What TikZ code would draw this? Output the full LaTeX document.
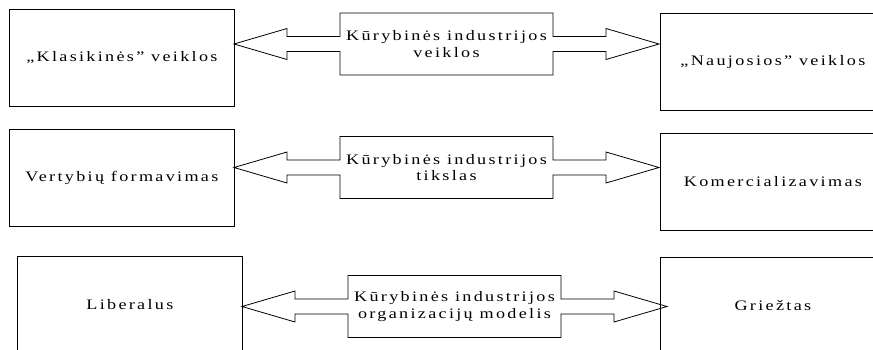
\documentclass[tikz,border=0pt]{standalone}
\usepackage{fontspec}
\setmainfont{Liberation Serif}[LetterSpace=16, FakeStretch=1.25]
\begin{document}
\begin{tikzpicture}[x=1pt,y=-1pt, line width=0.8pt,
  sidebox/.style={draw, minimum width=225pt, minimum height=97pt, anchor=north west, inner sep=0pt, font=\fontsize{14.5}{16.5}\selectfont},
  midtext/.style={align=center, inner sep=0pt, font=\fontsize{14.5}{16.5}\selectfont},
  dblarrow/.pic={
    \draw (-106.5,-31) -- (106.5,-31) -- (106.5,-7.5) -- (159.5,-7.5) -- (159.5,-15.5)
      -- (212.5,0) -- (159.5,15.5) -- (159.5,7.5) -- (106.5,7.5) -- (106.5,31)
      -- (-106.5,31) -- (-106.5,7.5) -- (-159.5,7.5) -- (-159.5,15.5) -- (-212.5,0)
      -- (-159.5,-15.5) -- (-159.5,-7.5) -- (-106.5,-7.5) -- cycle;
  }]
\useasboundingbox (0,0) rectangle (873,349);
\clip (0,0) rectangle (873,349);
% row 1
\node[sidebox] (L1) at (9,9) {„Klasikinės” veiklos};
\node[sidebox] (R1) at (660,13) {„Naujosios” veiklos};
\pic at (446.5,44) {dblarrow};
\node[midtext] (M1) at (446.5,44) {Kūrybinės industrijos\\veiklos};
% row 2
\node[sidebox] (L2) at (9,129) {Vertybių formavimas};
\node[sidebox] (R2) at (660,133) {Komercializavimas};
\pic at (446.5,167.5) {dblarrow};
\node[midtext] (M2) at (446.5,167.5) {Kūrybinės industrijos\\tikslas};
% row 3
\node[sidebox] (L3) at (17,256) {Liberalus};
\node[sidebox] (R3) at (660,257) {Griežtas};
\pic at (454.5,306.5) {dblarrow};
\node[midtext] (M3) at (454.5,306.5) {Kūrybinės industrijos\\organizacijų modelis};
\end{tikzpicture}
\end{document}
